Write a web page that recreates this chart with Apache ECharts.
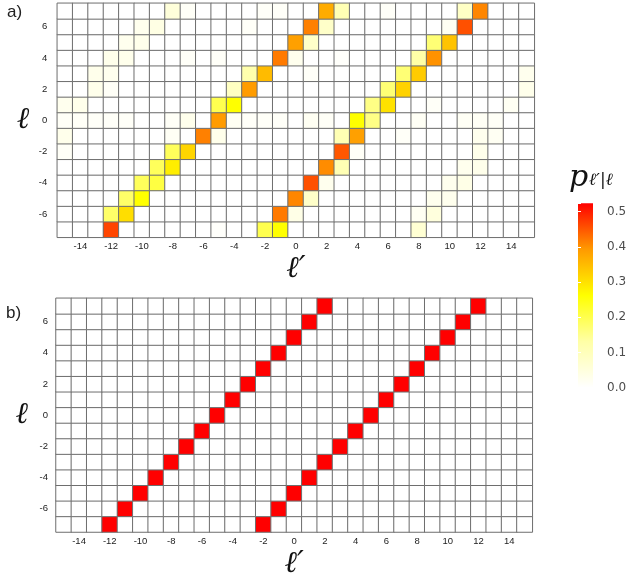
<!DOCTYPE html>
<html>
<head>
<meta charset="utf-8">
<script src="https://cdn.jsdelivr.net/npm/echarts@6/dist/echarts.min.js"></script>
<style>
  html, body { margin: 0; padding: 0; background: #fff; }
  #chart { width: 633px; height: 580px; }
</style>
</head>
<body>
<div id="chart"></div>
<script>
// Axis categories: incoming OAM value ℓ (rows) and outgoing value ℓ′ (columns)
const ellValues = [-7, -6, -5, -4, -3, -2, -1, 0, 1, 2, 3, 4, 5, 6, 7];
const ellPrimeValues = [-15, -14, -13, -12, -11, -10, -9, -8, -7, -6, -5, -4, -3, -2, -1,
  0, 1, 2, 3, 4, 5, 6, 7, 8, 9, 10, 11, 12, 13, 14, 15];

// Panel a: measured conditional probabilities p(ℓ′|ℓ), one list per row as [ℓ′, p]
const measuredRowP7 = [[-8, 0.055], [-7, 0.012], [-2, 0.01], [-1, 0.01], [2, 0.37], [3, 0.11], [6, 0.01], [11, 0.085], [12, 0.41]];
const measuredRowP6 = [[-10, 0.025], [-9, 0.04], [-3, 0.01], [1, 0.415], [2, 0.08], [10, 0.018], [11, 0.456]];
const measuredRowP5 = [[-11, 0.025], [-10, 0.03], [0, 0.385], [1, 0.08], [9, 0.17], [10, 0.34]];
const measuredRowP4 = [[-12, 0.03], [-11, 0.028], [-7, 0.01], [-5, 0.01], [-1, 0.42], [0, 0.025], [3, 0.006], [8, 0.13], [9, 0.40]];
const measuredRowP3 = [[-13, 0.03], [-12, 0.025], [-3, 0.12], [-2, 0.35], [1, 0.01], [7, 0.17], [8, 0.33], [15, 0.025]];
const measuredRowP2 = [[-13, 0.03], [-12, 0.012], [-4, 0.09], [-3, 0.39], [6, 0.17], [7, 0.32], [15, 0.03]];
const measuredRowP1 = [[-15, 0.025], [-14, 0.03], [-5, 0.2], [-4, 0.262], [5, 0.157], [6, 0.30], [9, 0.01], [14, 0.018]];
const measuredRow0 = [[-15, 0.012], [-14, 0.012], [-13, 0.01], [-12, 0.01], [-11, 0.01], [-8, 0.012], [-7, 0.028],
  [-5, 0.39], [-4, 0.018], [-3, 0.01], [-2, 0.01], [-1, 0.01], [1, 0.018], [2, 0.012], [4, 0.262], [5, 0.157],
  [8, 0.015], [11, 0.015], [12, 0.015], [13, 0.012]];
const measuredRowM1 = [[-15, 0.03], [-8, 0.015], [-6, 0.415], [-5, 0.03], [3, 0.11], [4, 0.385], [7, 0.01], [12, 0.025], [13, 0.018]];
const measuredRowM2 = [[-15, 0.012], [-8, 0.19], [-7, 0.316], [3, 0.45], [4, 0.012], [12, 0.03]];
const measuredRowM3 = [[-9, 0.19], [-8, 0.284], [2, 0.405], [3, 0.11], [11, 0.025], [12, 0.03]];
const measuredRowM4 = [[-10, 0.19], [-9, 0.21], [1, 0.456], [2, 0.025], [10, 0.025], [11, 0.035]];
const measuredRowM5 = [[-11, 0.18], [-10, 0.262], [0, 0.41], [1, 0.08], [9, 0.025], [10, 0.025]];
const measuredRowM6 = [[-12, 0.18], [-11, 0.305], [-1, 0.42], [0, 0.035], [8, 0.018], [9, 0.05]];
const measuredRowM7 = [[-12, 0.465], [-5, 0.006], [-2, 0.2], [-1, 0.262], [8, 0.065]];

const measuredRows = [
  [7, measuredRowP7], [6, measuredRowP6], [5, measuredRowP5], [4, measuredRowP4],
  [3, measuredRowP3], [2, measuredRowP2], [1, measuredRowP1], [0, measuredRow0],
  [-1, measuredRowM1], [-2, measuredRowM2], [-3, measuredRowM3], [-4, measuredRowM4],
  [-5, measuredRowM5], [-6, measuredRowM6], [-7, measuredRowM7]
];

// Panel b: ideal sorter, each ℓ (from -7 to 7) goes to two outputs with equal weight
const idealLowerTargets = [-12, -11, -10, -9, -8, -7, -6, -5, -4, -3, -2, -1, 0, 1, 2];
const idealUpperTargets = [-2, -1, 0, 1, 2, 3, 4, 5, 6, 7, 8, 9, 10, 11, 12];
const idealWeight = 0.5;

// Colour scale
const scaleMax = 0.524;
const scaleTicks = [0.0, 0.1, 0.2, 0.3, 0.4, 0.5];
const palette = ['#ffffff', '#ffffa6', '#ffff00', '#ff9a00', '#ff0000'];

// ---- build heatmap cell tables ----
const xIndex = v => ellPrimeValues.indexOf(v);
const yIndex = v => ellValues.indexOf(v);

function emptyTable() {
  const t = [];
  for (let yi = 0; yi < ellValues.length; yi++)
    for (let xi = 0; xi < ellPrimeValues.length; xi++) t.push([xi, yi, 0]);
  return t;
}
function setCell(table, ell, ellPrime, p) {
  const idx = yIndex(ell) * ellPrimeValues.length + xIndex(ellPrime);
  table[idx][2] = p;
}

const measuredTable = emptyTable();
measuredRows.forEach(([ell, cells]) => cells.forEach(([lp, p]) => setCell(measuredTable, ell, lp, p)));

const idealTable = emptyTable();
ellValues.forEach((ell, i) => {
  setCell(idealTable, ell, idealLowerTargets[i], idealWeight);
  setCell(idealTable, ell, idealUpperTargets[i], idealWeight);
});

// ---- styling helpers ----
const evenOnly = (idx, val) => Number(val) % 2 === 0;
const tickFont = { fontSize: 9.5, color: '#222', fontFamily: 'Liberation Sans' };
const symbolFont = { fontFamily: 'DejaVu Serif', fontStyle: 'italic', fontSize: 30, color: '#111' };

function catX(gridIndex) {
  return {
    type: 'category', gridIndex, data: ellPrimeValues.map(String),
    axisLine: { show: false }, axisTick: { show: false }, splitLine: { show: false },
    axisLabel: Object.assign({ interval: evenOnly, margin: 4.5 }, tickFont),
    name: 'ℓ′', nameLocation: 'middle', nameGap: 17, nameTextStyle: symbolFont
  };
}
function catY(gridIndex, margin) {
  return {
    type: 'category', gridIndex, data: ellValues.map(String),
    axisLine: { show: false }, axisTick: { show: false }, splitLine: { show: false },
    axisLabel: Object.assign({ interval: evenOnly, margin }, tickFont),
    name: 'ℓ', nameLocation: 'middle', nameRotate: 0, nameGap: 28, nameTextStyle: symbolFont
  };
}
const cellStyle = { borderColor: '#6e6e6e', borderWidth: 1 };

const chart = echarts.init(document.getElementById('chart'), null, { renderer: 'canvas' });

chart.setOption({
  animation: false,
  backgroundColor: '#ffffff',
  grid: [
    { left: 57.3, top: 3.3, width: 477, height: 234 },
    { left: 56, top: 298.3, width: 476.3, height: 233.7 },
    { left: 578, top: 203.3, width: 15, height: 184.4 }
  ],
  xAxis: [
    catX(0),
    catX(1),
    { type: 'value', gridIndex: 2, min: 0, max: 1, show: false }
  ],
  yAxis: [
    catY(0, 10),
    catY(1, 8),
    {
      type: 'value', gridIndex: 2, min: 0, max: scaleMax, interval: 0.1, position: 'right', z: 10,
      axisLine: { show: false }, splitLine: { show: false },
      axisTick: { show: true, inside: true, length: 3, lineStyle: { color: '#ffffff', width: 1 } },
      axisLabel: {
        margin: 14, fontSize: 12, color: '#4d4d4d', fontFamily: 'DejaVu Sans',
        formatter: v => scaleTicks.some(t => Math.abs(t - v) < 1e-6) ? v.toFixed(1) : ''
      }
    },
    {
      type: 'value', gridIndex: 2, min: 0, max: scaleMax, interval: 0.1, position: 'left', z: 10,
      axisLine: { show: false }, splitLine: { show: false },
      axisTick: { show: true, inside: true, length: 3, lineStyle: { color: '#ffffff', width: 1 } },
      axisLabel: { show: false }
    }
  ],
  visualMap: [
    { type: 'continuous', show: false, seriesIndex: 0, min: 0, max: scaleMax, inRange: { color: palette } },
    { type: 'continuous', show: false, seriesIndex: 1, min: 0, max: idealWeight, inRange: { color: palette } }
  ],
  graphic: [
    { type: 'text', left: 7, top: 4, style: { text: 'a)', font: '17px "Liberation Sans"', fill: '#222' } },
    { type: 'text', left: 6, top: 305, style: { text: 'b)', font: '17px "Liberation Sans"', fill: '#222' } },
    { type: 'text', left: 569, top: 163, style: { text: 'p', font: 'italic 30px "DejaVu Serif"', fill: '#111' } },
    { type: 'text', left: 589, top: 172, style: { text: 'ℓ′|ℓ', font: 'italic 17px "DejaVu Serif"', fill: '#111' } }
  ],
  series: [
    {
      type: 'heatmap', xAxisIndex: 0, yAxisIndex: 0, data: measuredTable,
      itemStyle: cellStyle, emphasis: { disabled: true }, silent: true
    },
    {
      type: 'heatmap', xAxisIndex: 1, yAxisIndex: 1, data: idealTable,
      itemStyle: cellStyle, emphasis: { disabled: true }, silent: true
    },
    {
      // colour bar drawn through the colour-scale axis
      type: 'custom', xAxisIndex: 2, yAxisIndex: 2, silent: true,
      data: [[0, scaleMax]],
      renderItem: (params, api) => {
        const base = api.coord([0, 0]);
        const topRight = api.coord([1, api.value(1)]);
        const stops = palette.map((c, i) => ({ offset: i / (palette.length - 1), color: c }));
        return {
          type: 'rect',
          shape: { x: base[0], y: topRight[1], width: topRight[0] - base[0], height: base[1] - topRight[1] },
          style: { fill: new echarts.graphic.LinearGradient(0, 1, 0, 0, stops) }
        };
      }
    }
  ]
});
</script>
</body>
</html>
